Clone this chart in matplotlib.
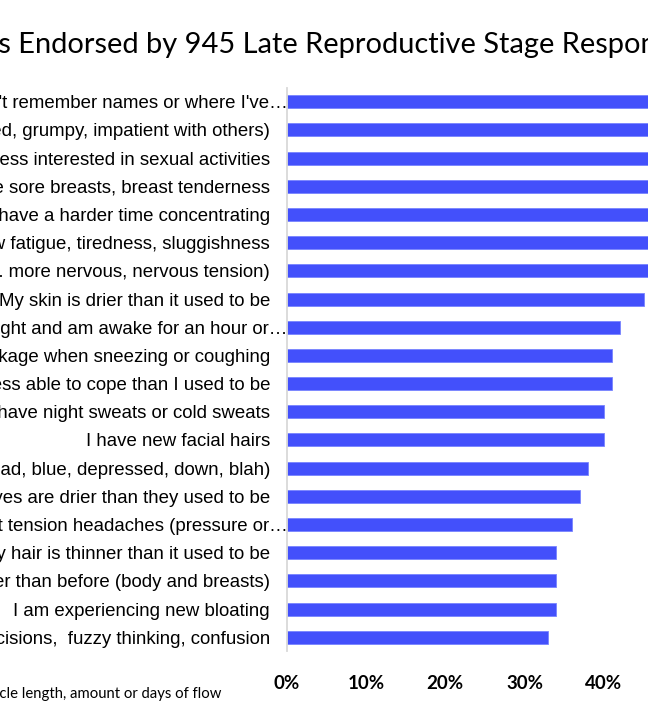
import matplotlib
matplotlib.use("Agg")
import matplotlib.pyplot as plt
import numpy as np

title = "Symptoms Endorsed by 945 Late Reproductive Stage Respondents"
footnote = "*Excluding changes in menstrual cycle length, amount or days of flow"

symptoms = [
    "I am more forgetful, I can't remember names or where I've\u2026",
    "I am more irritable (short-tempered, grumpy, impatient with others)",
    "I am less interested in sexual activities",
    "I have sore breasts, breast tenderness",
    "I have a harder time concentrating",
    "I have new fatigue, tiredness, sluggishness",
    "I feel more anxious (e.g. more nervous, nervous tension)",
    "My skin is drier than it used to be",
    "I wake up during the night and am awake for an hour or\u2026",
    "I have urine leakage when sneezing or coughing",
    "I feel less able to cope than I used to be",
    "I have night sweats or cold sweats",
    "I have new facial hairs",
    "I feel more depressed (sad, blue, depressed, down, blah)",
    "My eyes are drier than they used to be",
    "I have more frequent tension headaches (pressure or\u2026",
    "My hair is thinner than it used to be",
    "I am heavier than before (body and breasts)",
    "I am experiencing new bloating",
    "I have trouble making decisions,  fuzzy thinking, confusion",
]
percent = [62, 58, 55, 52, 50, 48, 47, 45, 42, 41, 41, 40, 40, 38, 37, 36, 34, 34, 34, 33]
xticks = [0, 10, 20, 30, 40]
xtick_labels = ["0%", "10%", "20%", "30%", "40%"]

W, H = 648, 720
fig = plt.figure(figsize=(W / 100, H / 100), dpi=100)

x0 = 286.7
px_per_pct = 7.93
xmax = 50
top_px, bot_px = 87.7, 651.3
ax = fig.add_axes([x0 / W, 1 - bot_px / H, xmax * px_per_pct / W, (bot_px - top_px) / H])

y = np.arange(len(symptoms))
ax.barh(y, percent, height=0.46, color="#4350FB", edgecolor="#7884FF", linewidth=0.6)
ax.set_ylim(len(symptoms) - 0.5, -0.5)
ax.set_xlim(0, xmax)
ax.set_yticks(y)
ax.set_yticklabels(symptoms, fontsize=13.45, family="Liberation Sans", color="black")
ax.set_xticks(xticks)
ax.set_xticklabels(xtick_labels, fontsize=13.5, fontweight="bold", family="Lato")
ax.tick_params(axis="y", length=0, pad=12)
ax.tick_params(axis="x", length=0, pad=17)
# truncated (ellipsis) labels run right up to the axis line
for tick, lab in zip(ax.yaxis.get_major_ticks(), symptoms):
    if lab.endswith("\u2026"):
        tick.set_pad(-0.8)
for s in ["top", "right", "bottom"]:
    ax.spines[s].set_visible(False)
ax.spines["left"].set_color("#d9d9d9")
ax.spines["left"].set_linewidth(1.3)

# Title positioned so it starts partway (figure is a crop of a wider slide)
title_size = 20.9
renderer = fig.canvas.get_renderer()
tmp = fig.text(0, 0, "Symptom", fontsize=title_size, family="Lato")
pre_w = tmp.get_window_extent(renderer).width
tmp.remove()
fig.text(-pre_w / W - 0.002, 1 - 45 / H, title, fontsize=title_size, family="Lato",
         ha="left", va="center", color="black")

fig.text(221 / W, 1 - 694 / H, footnote, fontsize=10.7, family="Lato",
         ha="right", va="center", color="black")

fig.savefig("out.png", dpi=100)
